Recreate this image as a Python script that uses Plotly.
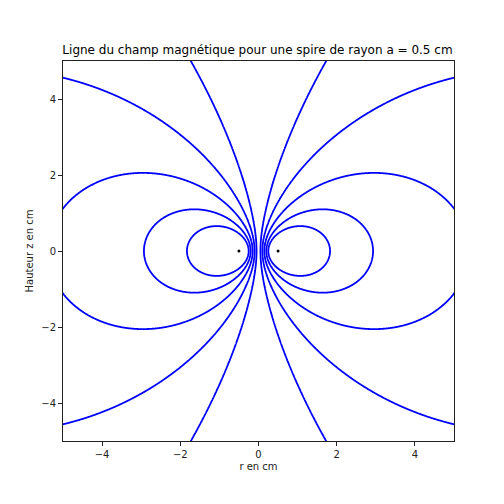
import numpy as np
import plotly.graph_objects as go

# Loop (spire) radius in cm and the positions of the wire cross-sections
loop_radius = 0.5
wire_r = [-0.5, 0.5]
wire_z = [0.0, 0.0]

# Points read on each plotted field line (right half; left half is its mirror)
line_r = [1.83, 2.93, 5.0, 5.0, 1.73]
line_z = [0.0, 0.0, 1.12, 4.56, 5.0]

x_ticks = [-4, -2, 0, 2, 4]
y_ticks = [-4, -2, 0, 2, 4]


def ellip_KE(m):
    a = np.ones_like(m)
    b = np.sqrt(1.0 - m)
    c = np.sqrt(m)
    s = 0.5 * c ** 2
    p = 0.5
    for _ in range(30):
        an = 0.5 * (a + b)
        bn = np.sqrt(a * b)
        c = 0.5 * (a - b)
        a, b = an, bn
        p *= 2.0
        s = s + p * c ** 2
    K = np.pi / (2.0 * a)
    E = K * (1.0 - s)
    return K, E


def flux(r, z, a=loop_radius):
    r = np.abs(np.asarray(r, dtype=float))
    z = np.asarray(z, dtype=float)
    m = 4 * a * r / ((a + r) ** 2 + z ** 2)
    m = np.clip(m, 1e-14, 1 - 1e-12)
    K, E = ellip_KE(m)
    k = np.sqrt(m)
    return np.sqrt(a * r) / k * ((2 - m) * K - 2 * E)


levels = [float(flux(np.array([r]), np.array([z]))[0]) for r, z in zip(line_r, line_z)]

n = 900
xs = np.linspace(-5.2, 5.2, n)
zs = np.linspace(-5.2, 5.2, n)
X, Z = np.meshgrid(xs, zs)
PSI = flux(X, Z)

fig = go.Figure()
for L in levels:
    fig.add_trace(go.Contour(
        x=xs, y=zs, z=PSI,
        contours=dict(start=L, end=L, size=1, coloring='lines', showlabels=False),
        colorscale=[[0, '#0000ff'], [1, '#0000ff']],
        line=dict(width=1.8, smoothing=1.0),
        showscale=False, hoverinfo='skip'))

fig.add_trace(go.Scatter(x=wire_r, y=wire_z, mode='markers',
                         marker=dict(color='black', size=3), showlegend=False))

axis_common = dict(showline=True, linecolor='#222', linewidth=1, mirror=True,
                   ticks='outside', ticklen=4, tickcolor='#222', tickwidth=1,
                   showgrid=False, zeroline=False,
                   tickfont=dict(family='DejaVu Sans', size=10, color='#222'))

fig.update_layout(
    width=496, height=496,
    margin=dict(l=55, r=50, t=53, b=63),
    paper_bgcolor='white', plot_bgcolor='white',
    showlegend=False,
    font=dict(family='DejaVu Sans', color='#222'),
    title=dict(text='Ligne du champ magnétique pour une spire de rayon a = 0.5 cm',
               x=0.503, xanchor='center', y=1 - 42 / 496, yanchor='middle',
               font=dict(family='DejaVu Sans', size=12, color='black')),
    xaxis=dict(range=[-5, 5], tickvals=x_ticks, ticktext=['−4', '−2', '0', '2', '4'],
               title=dict(text='r en cm', font=dict(size=10), standoff=3), **axis_common),
    yaxis=dict(range=[-5, 5], tickvals=y_ticks, ticktext=['−4', '−2', '0', '2', '4'],
               title=dict(text='Hauteur z en cm', font=dict(size=10), standoff=5), **axis_common),
)

fig.write_html('out.html')
